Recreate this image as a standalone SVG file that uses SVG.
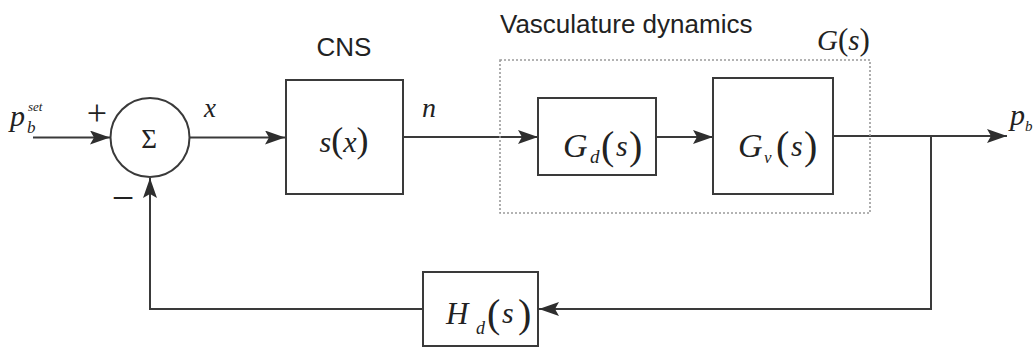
<svg xmlns="http://www.w3.org/2000/svg" width="1035" height="348" viewBox="0 0 1035 348">
<style>
.ln{fill:none;stroke:#3a3a3a;stroke-width:2}
.bx{fill:#fff;stroke:#3a3a3a;stroke-width:2}
.dot{fill:none;stroke:#9a9a9a;stroke-width:1.6;stroke-dasharray:2 2}
.m{font-family:"Liberation Serif",serif;font-style:italic;fill:#222}
.r{font-family:"Liberation Serif",serif;fill:#222}
.sans{font-family:"Liberation Sans",Arial,sans-serif;fill:#222;font-size:26px}
</style>
<defs>
<marker id="ah" markerUnits="userSpaceOnUse" markerWidth="22" markerHeight="16" refX="20" refY="7" orient="auto">
<path d="M0,0 L20,7 L0,14 L4,7 z" fill="#2e2e2e"/>
</marker>
</defs>
<rect x="0" y="0" width="1035" height="348" fill="#fff"/>

<g id="connectors">
<line class="ln" x1="33" y1="137.5" x2="110" y2="137.5" marker-end="url(#ah)"/>
<line class="ln" x1="190" y1="137.5" x2="285" y2="137.5" marker-end="url(#ah)"/>
<line class="ln" x1="403" y1="137" x2="538" y2="137" marker-end="url(#ah)"/>
<line class="ln" x1="656" y1="137" x2="713" y2="137" marker-end="url(#ah)"/>
<line class="ln" x1="833" y1="136" x2="1007" y2="136" marker-end="url(#ah)"/>
<polyline class="ln" points="931,136 931,309 539,309" marker-end="url(#ah)"/>
<polyline class="ln" points="423,309 150,309 150,178" marker-end="url(#ah)"/>
</g>

<g id="group-G">
<rect class="dot" x="500" y="60" width="370" height="153"/>
<text class="sans" x="500" y="33">Vasculature dynamics</text>
<text class="m" x="817" y="50" font-size="29">G<tspan class="r" font-style="normal" font-size="31">(</tspan>s<tspan class="r" font-style="normal" font-size="31">)</tspan></text>
</g>

<g id="input">
<text class="m" x="10" y="126" font-size="30">p</text>
<text class="m" x="27" y="133" font-size="17">b</text>
<text class="m" x="28" y="111" font-size="13">set</text>
<text class="r" x="97" y="125" font-size="36" text-anchor="middle">+</text>
<text class="r" x="123" y="211" font-size="40" text-anchor="middle">−</text>
</g>

<g id="sum">
<circle class="bx" cx="150" cy="137.5" r="39.5"/>
<text class="r" x="149" y="148" font-size="27" text-anchor="middle">Σ</text>
</g>

<g id="label-x"><text class="m" x="204" y="117" font-size="27">x</text></g>
<g id="label-n"><text class="m" x="422" y="117" font-size="28">n</text></g>

<g id="cns">
<rect class="bx" x="286" y="80" width="117" height="114"/>
<text class="sans" x="344" y="56" text-anchor="middle">CNS</text>
<text class="m" x="344" y="152" font-size="30" text-anchor="middle">s<tspan class="r" font-style="normal" font-size="36">(</tspan>x<tspan class="r" font-style="normal" font-size="36">)</tspan></text>
</g>

<g id="Gd">
<rect class="bx" x="538" y="98" width="118" height="77"/>
<text class="m" x="563" y="157" font-size="34">G</text>
<text class="m" x="590" y="163" font-size="19">d</text>
<text class="r" x="601" y="159" font-size="40">(</text>
<text class="m" x="616" y="156" font-size="30">s</text>
<text class="r" x="629" y="159" font-size="40">)</text>
</g>

<g id="Gv">
<rect class="bx" x="713" y="78" width="120" height="116"/>
<text class="m" x="738" y="157" font-size="34">G</text>
<text class="m" x="764" y="163" font-size="17">v</text>
<text class="r" x="776" y="159" font-size="40">(</text>
<text class="m" x="791" y="156" font-size="30">s</text>
<text class="r" x="804" y="159" font-size="40">)</text>
</g>

<g id="output">
<text class="m" x="1010" y="125" font-size="30">p</text>
<text class="m" x="1025" y="131" font-size="15">b</text>
</g>

<g id="Hd">
<rect class="bx" x="423" y="272" width="115" height="74"/>
<text class="m" x="446" y="324" font-size="31">H</text>
<text class="m" x="476" y="334" font-size="18">d</text>
<text class="r" x="487" y="327" font-size="40">(</text>
<text class="m" x="502" y="323" font-size="30">s</text>
<text class="r" x="518" y="327" font-size="40">)</text>
</g>
</svg>
